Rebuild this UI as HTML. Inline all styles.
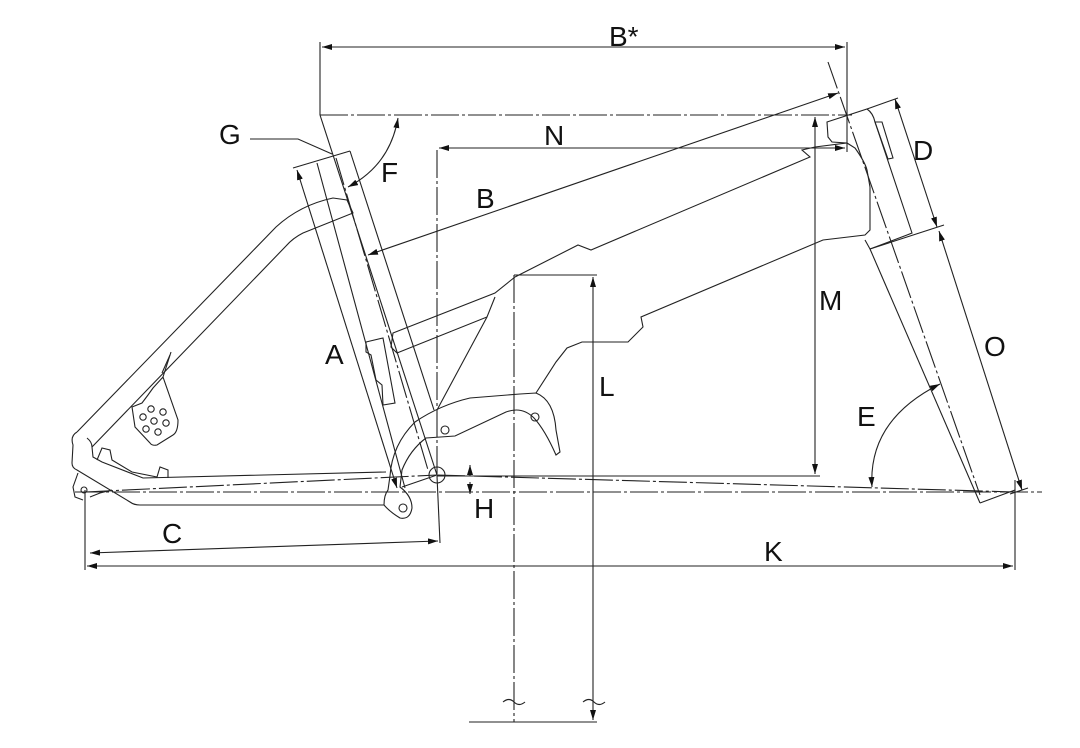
<!DOCTYPE html>
<html><head><meta charset="utf-8"><style>
html,body{margin:0;padding:0;background:#fff;}
svg{display:block}
text{font-family:"Liberation Sans",sans-serif;font-size:28px;fill:#111}
</style></head><body>
<svg width="1080" height="748" viewBox="0 0 1080 748" xmlns="http://www.w3.org/2000/svg">
<defs>
<marker id="a" viewBox="0 0 10 6" refX="10" refY="3" markerWidth="10" markerHeight="6" orient="auto-start-reverse" markerUnits="userSpaceOnUse"><path d="M0,0 L10,3 L0,6 z" fill="#111"/></marker>
</defs>
<g fill="none" stroke="#222" stroke-width="1.1">
<g stroke-dasharray="28,3,3,3">
<line x1="320" y1="115" x2="852" y2="115"/>
<line x1="75" y1="492" x2="1042" y2="492"/>
<line x1="437" y1="150" x2="437" y2="475"/>
<line x1="514" y1="275" x2="514" y2="722"/>
<line x1="85" y1="492" x2="437" y2="475"/>
<line x1="437" y1="475" x2="1015" y2="492"/>
<line x1="828" y1="62" x2="980" y2="495"/>
<line x1="336" y1="158" x2="428" y2="470"/>
</g>
<line x1="320" y1="42" x2="320" y2="115"/>
<line x1="847" y1="42" x2="847" y2="152"/>
<line x1="322" y1="47" x2="845" y2="47" marker-start="url(#a)" marker-end="url(#a)"/>
<line x1="320" y1="115" x2="437" y2="475"/>
<line x1="439" y1="148" x2="845" y2="148" marker-start="url(#a)" marker-end="url(#a)"/>
<line x1="815" y1="117" x2="815" y2="474" marker-start="url(#a)" marker-end="url(#a)"/>
<line x1="437" y1="476" x2="820" y2="476"/>
<line x1="514" y1="275" x2="597" y2="275"/>
<line x1="593" y1="277" x2="593" y2="720" marker-start="url(#a)" marker-end="url(#a)"/>
<line x1="469" y1="722" x2="597" y2="722"/>
<path d="M503,702 q6,-5 11,0 t11,0 M583,702 q6,-5 11,0 t11,0"/>
<line x1="87" y1="566" x2="1013" y2="566" marker-start="url(#a)" marker-end="url(#a)"/>
<line x1="85" y1="490" x2="85" y2="570"/>
<line x1="1015" y1="480" x2="1015" y2="570"/>
<line x1="437" y1="476" x2="440" y2="543"/>
<line x1="90" y1="553" x2="438" y2="541" marker-start="url(#a)" marker-end="url(#a)"/>
<line x1="470" y1="465" x2="470" y2="476" marker-start="url(#a)"/>
<line x1="470" y1="482" x2="470" y2="494" marker-end="url(#a)"/>
<line x1="368" y1="255" x2="838" y2="93" marker-start="url(#a)" marker-end="url(#a)"/>
<line x1="297" y1="170" x2="397" y2="488" marker-start="url(#a)" marker-end="url(#a)"/>
<line x1="402" y1="487" x2="437" y2="475"/>
<path d="M348,187 Q390,165 398,118" marker-start="url(#a)" marker-end="url(#a)"/>
<polyline points="250,139 298,139 332,154"/>
<line x1="867" y1="109" x2="898" y2="98"/>
<line x1="895" y1="99" x2="937" y2="227" marker-start="url(#a)" marker-end="url(#a)"/>
<line x1="870" y1="249" x2="944" y2="225"/>
<line x1="939" y1="231" x2="1022" y2="490" marker-start="url(#a)" marker-end="url(#a)"/>
<line x1="1010" y1="494" x2="1028" y2="488"/>
<path d="M872,487 Q868,420 940,384" marker-start="url(#a)" marker-end="url(#a)"/>
<!-- seat tube -->
<line x1="293" y1="168" x2="350" y2="151"/>
<line x1="317" y1="163" x2="405" y2="488"/>
<line x1="350" y1="151" x2="434" y2="410"/>
<polyline points="366,342 383,338 395,403 383,405 382,385 376,380 371,355 366,352 366,342"/>
<!-- seatstay -->
<path d="M77,432 L276,227 Q300,205 333,198 L347,200 L353,213 L303,233 Q293,238 286,246 L92,447"/>
<path d="M77,432 Q70,436 73,445 L72,463 Q72,468 77,470 L130,502 Q134,505 140,505 L384,505"/>
<path d="M87,438 Q92,442 92,447 L93,457 L102,462 L143,478 L386,472"/>
<path d="M97,460 L102,448 L110,450 L112,460 L132,472 L157,477 L160,467 L168,470 L168,478"/>
<path d="M78,473 L73,487 L75,497 L83,500 M90,497 L100,493 L112,490"/>
<circle cx="84" cy="490" r="3"/>
<path d="M132,407 L142,403 L148,395 L153,388 L163,377 L178,420 Q178,432 173,435 L157,445 Q152,446 150,443 L135,427 Z"/>
<line x1="162" y1="373" x2="170" y2="355"/>
<line x1="163" y1="377" x2="171" y2="352"/>
<g>
<circle cx="151" cy="409" r="3.2"/><circle cx="163" cy="412" r="3.2"/><circle cx="143" cy="417" r="3.2"/>
<circle cx="154" cy="421" r="3.2"/><circle cx="166" cy="423" r="3.2"/>
<circle cx="146" cy="429" r="3.2"/><circle cx="158" cy="432" r="3.2"/>
</g>
<!-- link near BB -->
<path d="M384,505 Q384,495 388,490 L390,476 Q392,445 415,422 Q440,405 470,398 L520,394 L536,393 Q554,400 556,430 L560,452 L556,455 Q545,430 534,418 Q522,406 506,412 L455,436 L426,438 Q410,450 402,470 L400,487 Q412,496 412,508 Q410,520 400,518 Q390,512 384,505"/>
<circle cx="403" cy="508" r="4"/>
<circle cx="445" cy="430" r="4"/>
<circle cx="535" cy="417" r="4"/>
<circle cx="437" cy="475" r="8"/>
<!-- main tube -->
<path d="M515,277 L578,245 L591,250 L810,157 L802,150 L815,147 L847,143 L855,148 Q865,162 867,170 L870,187 L870,230 L865,235 L823,240 L641,317 L643,327 L628,342 L582,342 L567,348 L556,362 L536,393"/>
<path d="M515,277 L495,293 L393,333 L391,347 L397,353 L487,317 L495,297"/>
<line x1="487" y1="317" x2="437" y2="410"/>
<!-- head tube -->
<path d="M847,143 L832,142 L828,137 L827,122 L867,109 Q873,113 875,122 L912,233 L907,235 L870,249 L865,240"/>
<polygon points="875,122 882,122 893,158 888,159"/>
<!-- fork -->
<line x1="870" y1="249" x2="980" y2="503"/>
<line x1="980" y1="503" x2="1015" y2="490"/>
</g>
<text x="609" y="46">B*</text>
<text x="544" y="145">N</text>
<text x="476" y="208">B</text>
<text x="219" y="144">G</text>
<text x="381" y="182">F</text>
<text x="325" y="364">A</text>
<text x="819" y="310">M</text>
<text x="599" y="396">L</text>
<text x="913" y="160">D</text>
<text x="984" y="356">O</text>
<text x="857" y="426">E</text>
<text x="474" y="518">H</text>
<text x="162" y="543">C</text>
<text x="764" y="561">K</text>
</svg>
</body></html>
